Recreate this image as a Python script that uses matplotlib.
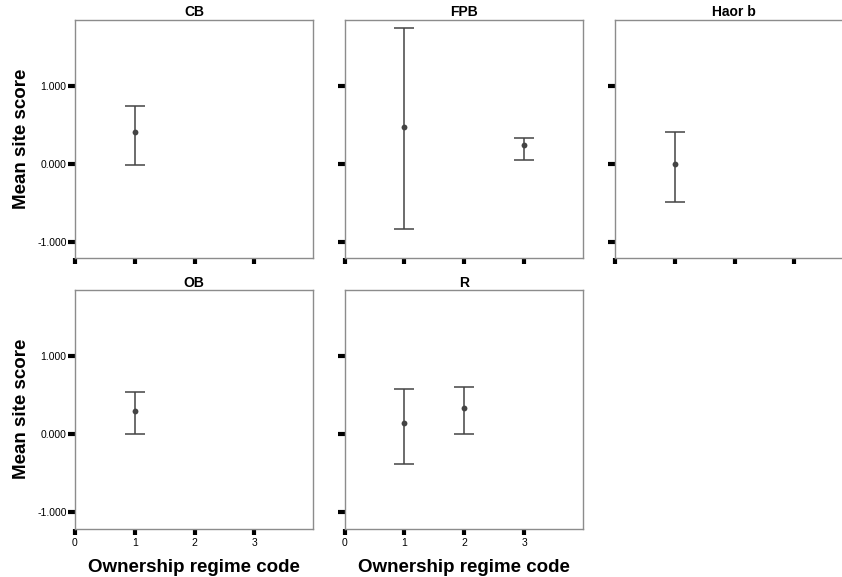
import matplotlib
matplotlib.use("Agg")
import matplotlib.pyplot as plt
from matplotlib.ticker import FixedLocator, StrMethodFormatter

plt.rcParams['font.family'] = ['Liberation Sans', 'DejaVu Sans']
plt.rcParams['axes.unicode_minus'] = False

# mean site score and error bar limits per ownership regime code, by panel
panels = ['CB', 'FPB', 'Haor b', 'OB', 'R']
codes = {'CB': [1], 'FPB': [1, 3], 'Haor b': [1], 'OB': [1], 'R': [1, 2]}
means = {'CB': [0.41], 'FPB': [0.47, 0.245], 'Haor b': [0.0], 'OB': [0.30], 'R': [0.145, 0.335]}
upper = {'CB': [0.74], 'FPB': [1.74, 0.335], 'Haor b': [0.41], 'OB': [0.54], 'R': [0.58, 0.60]}
lower = {'CB': [-0.02], 'FPB': [-0.84, 0.05], 'Haor b': [-0.495], 'OB': [0.0], 'R': [-0.385, 0.0]}

x_ticks = [0, 1, 2, 3]
y_ticks = [-1.0, 0.0, 1.0]

W, H = 842, 577
fig = plt.figure(figsize=(W / 100, H / 100), dpi=100)

# pixel boxes (left, top, width, height) for each panel
col_left = [75, 344.7, 615]
row_top = [19.5, 290]
pw, ph = 238, 238.5
layout = {'CB': (0, 0), 'FPB': (0, 1), 'Haor b': (0, 2), 'OB': (1, 0), 'R': (1, 1)}

spine_col = '#8c8c8c'
bar_col = '#444444'

for name in panels:
    r, c = layout[name]
    left = col_left[c]
    top = row_top[r]
    ax = fig.add_axes([left / W, 1 - (top + ph) / H, pw / W, ph / H])

    xs = codes[name]
    m = means[name]
    err = [[mi - lo for mi, lo in zip(m, lower[name])],
           [up - mi for mi, up in zip(m, upper[name])]]
    ax.errorbar(xs, m, yerr=err, fmt='none', ecolor=bar_col,
                elinewidth=1.1, capsize=7.2, capthick=1.1)
    ax.plot(xs, m, 'o', color=bar_col, markersize=4.2, markeredgewidth=0)

    ax.set_xlim(0, 3.98)
    ax.set_ylim(-1.21, 1.85)
    ax.xaxis.set_major_locator(FixedLocator(x_ticks))
    ax.yaxis.set_major_locator(FixedLocator(y_ticks))
    ax.yaxis.set_major_formatter(StrMethodFormatter('{x:.3f}'))

    for s in ax.spines.values():
        s.set_color(spine_col)
        s.set_linewidth(1.0)

    ax.tick_params(axis='y', direction='out', length=5, width=3, color='black',
                   labelsize=7.5, pad=1)
    ax.tick_params(axis='x', direction='out', length=4, width=3, color='black',
                   labelsize=7.5, pad=3)

    if c != 0:
        ax.tick_params(axis='y', labelleft=False)
    else:
        ax.set_ylabel('Mean site score', fontsize=13.5, fontweight='bold', labelpad=5)

    if r == 0:
        ax.tick_params(axis='x', labelbottom=False)
    else:
        ax.set_xlabel('Ownership regime code', fontsize=13.5, fontweight='bold', labelpad=8)

    ax.set_title(name, fontsize=10, fontweight='bold', pad=2)

fig.savefig('out.png', dpi=100)
